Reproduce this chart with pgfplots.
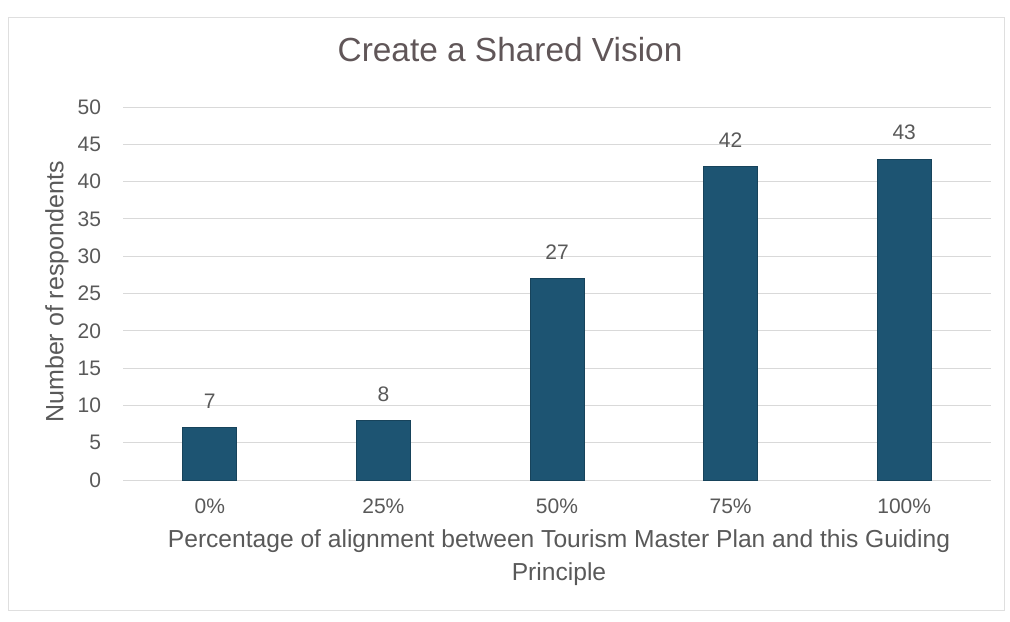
\documentclass[border=0pt]{standalone}
\usepackage{pgfplots}
\pgfplotsset{compat=1.18}
\usepackage{fontspec}
\setmainfont{Liberation Sans}
\definecolor{barblue}{RGB}{29,84,114}
\definecolor{txtgray}{RGB}{89,89,89}
\definecolor{titlegray}{RGB}{96,86,88}
\definecolor{gridgray}{RGB}{217,217,217}
\begin{document}
\begin{tikzpicture}
\path[use as bounding box] (0,0) rectangle (505pt,310.5pt);
\draw[gray!25, line width=0.4pt] (4pt,5.5pt) rectangle (502pt,302pt);
\begin{axis}[
  at={(61.5pt,70.5pt)}, anchor=south west,
  scale only axis,
  width=434pt, height=186.5pt,
  ymin=0, ymax=50,
  xmin=-0.5, xmax=4.5,
  ytick={0,5,...,50},
  xtick=data,
  xticklabels={0\%,25\%,50\%,75\%,100\%},
  axis line style={draw=none},
  major tick length=0pt,
  ymajorgrids,
  grid style={gridgray, line width=0.5pt},
  /pgf/number format/assume math mode=true,
  tick label style={font=\fontsize{10.5}{12}\selectfont, text=txtgray},
  yticklabel style={xshift=-7.5pt},
  xticklabel style={yshift=-6pt},
  ybar, bar width=27pt,
  nodes near coords,
  nodes near coords style={font=\fontsize{10.5}{12}\selectfont, text=txtgray, yshift=6pt},
]
\addplot[fill=barblue, draw=barblue!80!black, line width=0.4pt] coordinates {(0,7) (1,8) (2,27) (3,42) (4,43)};
\end{axis}
\node[font=\fontsize{16.7}{19}\selectfont, text=titlegray] at (255pt,285.5pt) {Create a Shared Vision};
\node[font=\fontsize{12.5}{14}\selectfont, text=txtgray, rotate=90] at (28.5pt,164.5pt) {Number of respondents};
\node[font=\fontsize{12.3}{16.5}\selectfont, text=txtgray, align=center] at (279.5pt,31.5pt) {Percentage of alignment between Tourism Master Plan and this Guiding\\Principle};
\end{tikzpicture}
\end{document}
